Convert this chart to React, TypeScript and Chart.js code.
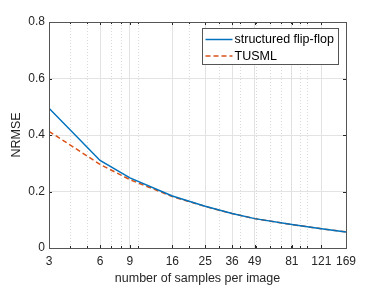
import React, { useEffect, useRef } from 'react';
import { Chart, registerables } from 'chart.js';
Chart.register(...registerables);

const samples = [3, 6, 9, 16, 25, 36, 49, 81, 121, 169];
const flipFlop = [0.495, 0.310, 0.248, 0.184, 0.148, 0.122, 0.104, 0.083, 0.068, 0.057];
const tusml = [0.413, 0.296, 0.242, 0.182, 0.147, 0.122, 0.104, 0.083, 0.068, 0.057];
const xTicks = [3, 6, 9, 16, 25, 36, 49, 81, 121, 169];
const xMinor = [4, 5, 6, 7, 8, 9, 10, 20, 30, 40, 50, 60, 70, 80, 90, 100];
const yTicks = [0, 0.2, 0.4, 0.6, 0.8];
const seriesLabels = ['structured flip-flop', 'TUSML'];
const seriesColors = ['#0072BD', '#D95319'];

const FONT = '"Liberation Sans", Arial, Helvetica, sans-serif';
const AXIS = '#262626';

const decorPlugin = {
  id: 'decor',
  beforeDatasetsDraw(chart: any) {
    const { ctx, chartArea: a, scales } = chart;
    const xs = scales.x;
    ctx.save();
    ctx.strokeStyle = '#dadada';
    ctx.lineWidth = 1;
    ctx.setLineDash([1, 2]);
    xMinor.forEach((v) => {
      if (xTicks.includes(v)) return;
      const px = Math.round(xs.getPixelForValue(v)) + 0.5;
      ctx.beginPath();
      ctx.moveTo(px, a.top);
      ctx.lineTo(px, a.bottom);
      ctx.stroke();
    });
    ctx.restore();
  },
  afterDatasetsDraw(chart: any) {
    const { ctx, chartArea: a, scales } = chart;
    const xs = scales.x;
    const ys = scales.y;
    ctx.save();
    ctx.strokeStyle = AXIS;
    ctx.lineWidth = 1;
    ctx.setLineDash([]);
    const allX = Array.from(new Set([...xTicks, ...xMinor]));
    allX.forEach((v) => {
      const len = xTicks.includes(v) ? 3 : 2;
      const px = Math.round(xs.getPixelForValue(v)) + 0.5;
      ctx.beginPath();
      ctx.moveTo(px, a.bottom);
      ctx.lineTo(px, a.bottom - len);
      ctx.moveTo(px, a.top);
      ctx.lineTo(px, a.top + len);
      ctx.stroke();
    });
    yTicks.forEach((v) => {
      const py = Math.round(ys.getPixelForValue(v)) + 0.5;
      ctx.beginPath();
      ctx.moveTo(a.left, py);
      ctx.lineTo(a.left + 3, py);
      ctx.moveTo(a.right, py);
      ctx.lineTo(a.right - 3, py);
      ctx.stroke();
    });
    ctx.strokeStyle = '#555555';
    ctx.strokeRect(Math.round(a.left) + 0.5, Math.round(a.top) + 0.5, Math.round(a.right - a.left), Math.round(a.bottom - a.top));
    const bw = 136, bh = 36;
    const bx = Math.round(a.right) - 8 - bw + 0.5;
    const by = Math.round(a.top) + 6 + 0.5;
    ctx.fillStyle = '#ffffff';
    ctx.fillRect(bx, by, bw, bh);
    ctx.strokeStyle = '#555555';
    ctx.strokeRect(bx, by, bw, bh);
    ctx.font = `12.5px ${FONT}`;
    ctx.textBaseline = 'middle';
    ctx.textAlign = 'left';
    chart.data.datasets.forEach((ds: any, i: number) => {
      const cy = by + 11 + i * 16.5;
      ctx.strokeStyle = ds.borderColor;
      ctx.lineWidth = 1.5;
      ctx.setLineDash(ds.borderDash || []);
      ctx.beginPath();
      ctx.moveTo(bx + 3, cy);
      ctx.lineTo(bx + 30, cy);
      ctx.stroke();
      ctx.setLineDash([]);
      ctx.fillStyle = '#000000';
      ctx.fillText(ds.label, bx + 32, cy + 0.5);
    });
    ctx.restore();
  },
};

export default function App() {
  const ref = useRef<HTMLCanvasElement | null>(null);
  useEffect(() => {
    document.body.style.margin = '0';
    const canvas = ref.current!;
    const chart = new Chart(canvas, {
      type: 'line',
      data: {
        datasets: [
          {
            label: seriesLabels[0],
            data: samples.map((x, i) => ({ x, y: flipFlop[i] })),
            borderColor: seriesColors[0],
            borderWidth: 1.5,
            pointRadius: 0,
            fill: false,
            tension: 0,
          },
          {
            label: seriesLabels[1],
            data: samples.map((x, i) => ({ x, y: tusml[i] })),
            borderColor: seriesColors[1],
            borderWidth: 1.5,
            borderDash: [5, 3],
            pointRadius: 0,
            fill: false,
            tension: 0,
          },
        ],
      },
      options: {
        animation: false,
        responsive: false,
        layout: { padding: { top: 22, right: 36, left: 0, bottom: 0 } },
        plugins: { legend: { display: false }, tooltip: { enabled: false } },
        scales: {
          x: {
            type: 'logarithmic',
            min: 3,
            max: 169,
            afterBuildTicks: (s: any) => {
              s.ticks = xTicks.map((v) => ({ value: v }));
            },
            afterFit: (s: any) => {
              s.height = 39;
            },
            ticks: {
              autoSkip: false,
              maxRotation: 0,
              padding: 6,
              color: AXIS,
              font: { family: FONT, size: 12 },
              callback: (v: any) => String(v),
            },
            grid: { color: '#e3e3e3', drawTicks: false, lineWidth: 1 },
            border: { display: false },
            title: {
              display: true,
              text: 'number of samples per image',
              color: AXIS,
              font: { family: FONT, size: 12.5 },
              padding: { top: 0, bottom: 0.5 },
            },
          },
          y: {
            type: 'linear',
            min: 0,
            max: 0.8,
            afterBuildTicks: (s: any) => {
              s.ticks = yTicks.map((v) => ({ value: v }));
            },
            afterFit: (s: any) => {
              s.width = 49;
            },
            ticks: {
              padding: 4,
              color: AXIS,
              font: { family: FONT, size: 12 },
              callback: (v: any) => (v === 0 ? '0' : Number(v).toFixed(1)),
            },
            grid: { color: '#e3e3e3', drawTicks: false, lineWidth: 1 },
            border: { display: false },
            title: {
              display: true,
              text: 'NRMSE',
              color: AXIS,
              font: { family: FONT, size: 12.5 },
              padding: { top: 9.5, bottom: 0 },
            },
          },
        },
      },
      plugins: [decorPlugin],
    } as any);
    return () => chart.destroy();
  }, []);
  return <canvas ref={ref} width={382} height={287} style={{ display: 'block', width: 382, height: 287 }} />;
}
